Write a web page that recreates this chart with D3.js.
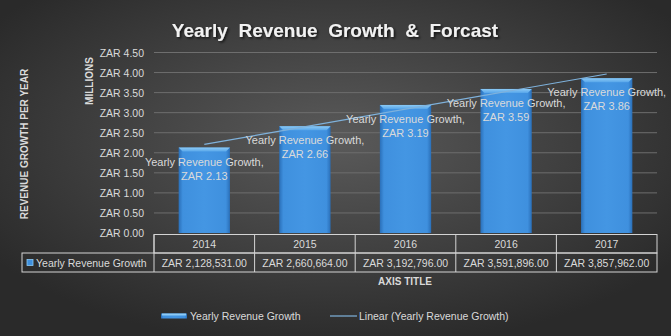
<!DOCTYPE html>
<html><head><meta charset="utf-8">
<script src="https://cdn.jsdelivr.net/npm/d3@7"></script>
<style>html,body{margin:0;padding:0;background:#333;}svg{display:block;}</style>
</head><body>
<svg id="chart" width="671" height="336"></svg>
<script>
const title = "Yearly  Revenue  Growth  &  Forcast";
const categories = ["2014", "2015", "2016", "2016", "2017"];
const values = [2128531, 2660664, 3192796, 3591896, 3857962];
const seriesName = "Yearly Revenue Growth";
const trendName = "Linear (Yearly Revenue Growth)";
const yTicks = [0, 0.5, 1, 1.5, 2, 2.5, 3, 3.5, 4, 4.5];

const W = 671, H = 336;
const svg = d3.select("#chart");
const defs = svg.append("defs");
const font = "'Liberation Sans', Arial, sans-serif";
const txt = "#dadada";

const bg = defs.append("radialGradient").attr("id","bg").attr("cx","50%").attr("cy","42%").attr("r","62%");
bg.append("stop").attr("offset","0%").attr("stop-color","#5a5a5a");
bg.append("stop").attr("offset","100%").attr("stop-color","#2a2a2a");
svg.append("rect").attr("width",W).attr("height",H).attr("fill","url(#bg)");

const bg2 = defs.append("linearGradient").attr("id","barg").attr("x1","0").attr("x2","1").attr("y1","0").attr("y2","0");
[["0%","#2a6fb8"],["8%","#3f90de"],["50%","#4496e3"],["92%","#3f90de"],["100%","#2a6fb8"]].forEach(s=>bg2.append("stop").attr("offset",s[0]).attr("stop-color",s[1]));
const topg = defs.append("linearGradient").attr("id","topg").attr("x1","0").attr("x2","0").attr("y1","0").attr("y2","1");
topg.append("stop").attr("offset","0%").attr("stop-color","#8ccaf5");
topg.append("stop").attr("offset","100%").attr("stop-color","#57a6ea");

const sh = defs.append("filter").attr("id","shadow").attr("x","-10%").attr("y","-30%").attr("width","120%").attr("height","160%");
sh.append("feDropShadow").attr("dx",1.5).attr("dy",1.5).attr("stdDeviation",1).attr("flood-color","#000").attr("flood-opacity",0.7);

// title
svg.append("text").attr("x",335).attr("y",37).attr("text-anchor","middle")
  .attr("font-family",font).attr("font-weight","bold").attr("font-size",19)
  .attr("fill","#f2f2f2").attr("filter","url(#shadow)").style("white-space","pre").text(title);

const x = d3.scaleBand().domain(d3.range(categories.length)).range([154, 657]).padding(0);
const y = d3.scaleLinear().domain([0, 4.5]).range([233, 52.5]);

// gridlines
svg.append("g").selectAll("line").data(yTicks.slice(1)).join("line")
  .attr("x1",154).attr("x2",657).attr("y1",d=>y(d)).attr("y2",d=>y(d))
  .attr("stroke","#6e6e6e").attr("stroke-width",1);

// y axis labels
const yAxis = d3.axisLeft(y).tickValues(yTicks).tickSize(0).tickPadding(0)
  .tickFormat(d=>"ZAR " + d3.format(".2f")(d));
const ya = svg.append("g").attr("transform","translate(144,0)").call(yAxis);
ya.select(".domain").remove();
ya.selectAll("text").attr("font-family",font).attr("font-size",10.5).attr("fill",txt).attr("dy","0.35em");

svg.append("text").attr("transform","translate(93,81) rotate(-90)").attr("text-anchor","middle")
  .attr("font-family",font).attr("font-weight","bold").attr("font-size",10).attr("fill",txt).text("MILLIONS");
svg.append("text").attr("transform","translate(28,144) rotate(-90)").attr("text-anchor","middle")
  .attr("font-family",font).attr("font-weight","bold").attr("font-size",10).attr("fill",txt).text("REVENUE GROWTH PER YEAR");

// bars
const bw = x.bandwidth()*0.51;
const bars = svg.append("g").selectAll("g").data(values).join("g");
bars.append("rect")
  .attr("x",(d,i)=>x(i)+x.bandwidth()/2-bw/2).attr("width",bw)
  .attr("y",d=>y(d/1e6)).attr("height",d=>y(0)-y(d/1e6))
  .attr("fill","url(#barg)");
bars.append("path").attr("d",(d,i)=>{
  const l = x(i)+x.bandwidth()/2-bw/2, r = l+bw, t = y(d/1e6), b = 4;
  return `M${l},${t}L${r},${t}L${r-b},${t+b}L${l+b},${t+b}Z`;
}).attr("fill","url(#topg)");

// trendline (least-squares linear fit)
const xs = d3.range(values.length), ys = values.map(v=>v/1e6);
const mx = d3.mean(xs), my = d3.mean(ys);
const slope = d3.sum(xs.map((xi,i)=>(xi-mx)*(ys[i]-my))) / d3.sum(xs.map(xi=>(xi-mx)**2));
const icpt = my - slope*mx;
const cx = i => x(i)+x.bandwidth()/2;
svg.append("line").attr("x1",cx(0)).attr("x2",cx(values.length-1))
  .attr("y1",y(icpt)).attr("y2",y(icpt+slope*(values.length-1)))
  .attr("stroke","#7fb2dc").attr("stroke-width",1.2);

// data labels
const lab = svg.append("g").attr("font-family",font).attr("font-size",11).attr("fill",txt).attr("text-anchor","middle");
values.forEach((v,i)=>{
  const t = y(v/1e6);
  lab.append("text").attr("x",cx(i)).attr("y",t+18).text(seriesName + ",");
  lab.append("text").attr("x",cx(i)).attr("y",t+32).text("ZAR " + d3.format(".2f")(v/1e6));
});

// data table
const tb = svg.append("g");
const rowTop = 234.5, rowMid = 253, rowBot = 272;
const bc = "#d4d4d4";
tb.append("rect").attr("x",154).attr("y",rowTop).attr("width",503).attr("height",rowMid-rowTop).attr("fill","none").attr("stroke",bc);
tb.append("rect").attr("x",22).attr("y",rowMid).attr("width",635).attr("height",rowBot-rowMid).attr("fill","none").attr("stroke",bc);
tb.selectAll("line.v").data(d3.range(1,categories.length)).join("line")
  .attr("x1",i=>x(i)).attr("x2",i=>x(i)).attr("y1",rowTop).attr("y2",rowBot).attr("stroke",bc);
tb.append("line").attr("x1",154).attr("x2",154).attr("y1",rowTop).attr("y2",rowBot).attr("stroke",bc);
const tt = tb.append("g").attr("font-family",font).attr("font-size",10.5).attr("fill",txt).attr("text-anchor","middle");
categories.forEach((c,i)=>{
  tt.append("text").attr("x",cx(i)).attr("y",247.5).text(c);
  tt.append("text").attr("x",cx(i)).attr("y",266.5).text("ZAR " + d3.format(",.2f")(values[i]));
});
tb.append("rect").attr("x",27).attr("y",259.5).attr("width",6).attr("height",6).attr("fill","#3f90de").attr("stroke","#8ccaf5").attr("stroke-width",0.8);
tb.append("text").attr("x",36).attr("y",266.5).attr("font-family",font).attr("font-size",10.5).attr("fill",txt).text(seriesName);

svg.append("text").attr("x",405).attr("y",285).attr("text-anchor","middle")
  .attr("font-family",font).attr("font-weight","bold").attr("font-size",10).attr("fill",txt).text("AXIS TITLE");

// legend
const lg = svg.append("g").attr("font-family",font).attr("font-size",10.5).attr("fill",txt);
lg.append("rect").attr("x",161).attr("y",313.5).attr("width",26).attr("height",5).attr("fill","url(#barg)");
lg.append("rect").attr("x",162).attr("y",313.5).attr("width",24).attr("height",2).attr("fill","#8ccaf5");
lg.append("text").attr("x",190).attr("y",320).text(seriesName);
lg.append("line").attr("x1",330).attr("x2",357).attr("y1",316).attr("y2",316).attr("stroke","#7fb2dc").attr("stroke-width",1.2);
lg.append("text").attr("x",359).attr("y",320).text(trendName);
</script>
</body></html>
